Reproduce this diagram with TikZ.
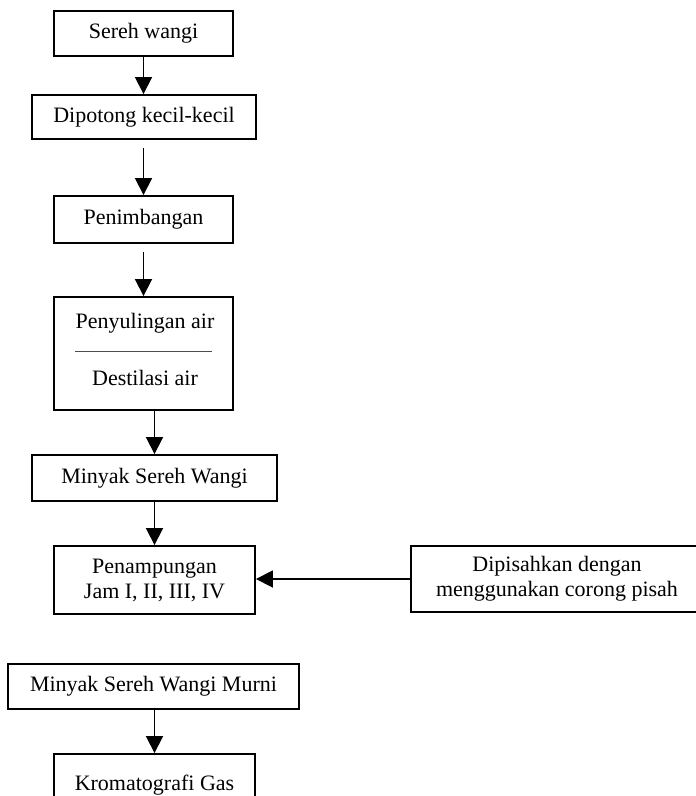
\documentclass[tikz,border=0pt]{standalone}
\usepackage{fontspec}
\setmainfont{Liberation Serif}
\usepackage{tikz}
\usetikzlibrary{arrows.meta,positioning}
\newcommand{\colorFlowLine}{black}

\begin{document}
\begin{tikzpicture}[x=1pt, y=-1pt,
        stepbox/.style={draw=\colorFlowLine, line width=1.9pt, inner sep=0pt, align=center, font=\fontsize{22}{25}\selectfont},
        steptext/.style={inner sep=0pt, font=\fontsize{22}{25}\selectfont},
        flow/.style={draw=\colorFlowLine, line width=1.8pt, -{Triangle[length=17pt, width=17pt]}}]

        \useasboundingbox (0, 0) rectangle (696, 796);

        \node[stepbox, minimum width=179pt, minimum height=45pt] (sereh) at (143.5, 33.5) {Sereh wangi};
        \node[stepbox, minimum width=224pt, minimum height=44pt] (potong) at (144, 117) {Dipotong kecil-kecil};
        \node[stepbox, minimum width=179pt, minimum height=47pt] (timbang) at (143.5, 219.5) {Penimbangan};

        \node[stepbox, minimum width=179pt, minimum height=113pt] (suling) at (143.5, 353.5) {};
        \node[steptext] (sulingA) at (145, 323) {Penyulingan air};
        \node[steptext] (sulingB) at (145, 378) {Destilasi air};
        \draw[line width=0.8pt, color=\colorFlowLine!70] (75, 351) -- (212, 351);

        \node[stepbox, minimum width=245pt, minimum height=46pt] (minyak) at (154.5, 478) {Minyak Sereh Wangi};
        \node[stepbox, minimum width=201pt, minimum height=68pt] (tampung) at (154.5, 580) {Penampungan\\Jam I, II, III, IV};
        \node[stepbox, minimum width=292pt, minimum height=66pt] (pisah) at (557, 579) {Dipisahkan dengan\\menggunakan corong pisah};

        \node[stepbox, minimum width=291pt, minimum height=45pt] (murni) at (153.5, 686.5) {Minyak Sereh Wangi Murni};
        \node[stepbox, minimum width=201pt, minimum height=62pt] (kroma) at (154.5, 785) {Kromatografi Gas};

        \draw[flow] (sereh.south) -- (sereh.south |- potong.north);
        \draw[flow, shorten <=8pt] (potong.south -| sereh) -- (sereh |- timbang.north);
        \draw[flow, shorten <=8pt] (timbang.south) -- (suling.north);
        \draw[flow] (suling.south -| minyak) -- (minyak.north);
        \draw[flow] (minyak.south) -- (tampung.north);
        \draw[flow] (pisah.west) -- (pisah.west -| tampung.east);
        \draw[flow] (murni.south -| kroma) -- (kroma.north);

\end{tikzpicture}
\end{document}
